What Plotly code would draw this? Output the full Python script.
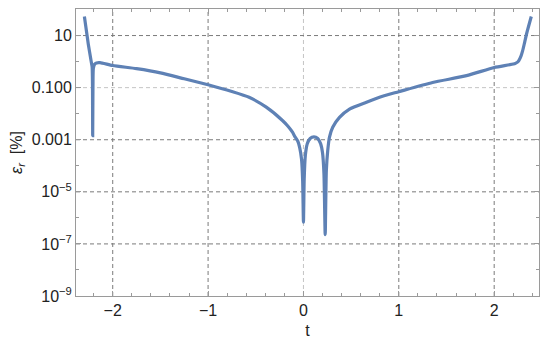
import plotly.graph_objects as go

# relative error curve (t, log10 of eps_r in %)
t_vals = [
    -2.297, -2.256, -2.227, -2.216, -2.212, -2.210, -2.207, -2.203, -2.19, -2.17,
    -2.133, -2.0, -1.75, -1.5, -1.25, -1.0, -0.75, -0.57, -0.39, -0.22,
    -0.16, -0.115, -0.09, -0.06, -0.04, -0.02, -0.008, 0.0, 0.008, 0.02,
    0.04, 0.07, 0.11, 0.15, 0.18, 0.2, 0.215, 0.228, 0.24, 0.255,
    0.273, 0.307, 0.378, 0.483, 0.661, 0.829, 1.0, 1.354, 1.71, 2.0,
    2.16, 2.22, 2.245, 2.26, 2.28, 2.298, 2.32, 2.34, 2.389,
]
eps_log10 = [
    1.73, 0.67, 0.03, -0.2, -0.9, -2.84, -0.9, -0.25, -0.1, -0.05,
    -0.04, -0.15, -0.27, -0.43, -0.66, -0.89, -1.15, -1.37, -1.75, -2.26,
    -2.49, -2.71, -2.88, -3.05, -3.29, -3.75, -4.6, -6.16, -4.5, -3.6,
    -3.15, -2.95, -2.89, -2.95, -3.15, -3.5, -4.3, -6.64, -4.2, -3.4,
    -2.9, -2.52, -2.14, -1.82, -1.56, -1.33, -1.155, -0.80, -0.54, -0.225,
    -0.12, -0.07, -0.02, 0.05, 0.2, 0.41, 0.75, 1.07, 1.73,
]
eps_vals = [10 ** v for v in eps_log10]

x_ticks = [-2, -1, 0, 1, 2]
y_ticks = [1e-9, 1e-7, 1e-5, 1e-3, 1e-1, 10]
y_ticktext = ["10<sup>−9</sup>", "10<sup>−7</sup>", "10<sup>−5</sup>", "0.001", "0.100", "10"]
y_minor = [1e-8, 1e-6, 1e-4, 1e-2, 1]

frame = "#9a9a9a"
grid_dark = "#7a7a7a"
grid_light = "#c4c4c4"
font = dict(family="Liberation Sans, Arial, sans-serif", size=16, color="#222222")

fig = go.Figure()
fig.add_trace(go.Scatter(
    x=t_vals, y=eps_vals, mode="lines",
    line=dict(color="#5E81B5", width=3.2, shape="spline", smoothing=0.6),
    showlegend=False,
))

# dashed grid lines
for xv in x_ticks:
    fig.add_vline(x=xv, line=dict(color=grid_light if xv == 0 else grid_dark, width=1, dash="4px,3px"), layer="below")
for yv in y_ticks[1:]:
    fig.add_hline(y=yv, line=dict(color=grid_light if yv == 1e-1 else grid_dark, width=1, dash="4px,3px"), layer="below")

fig.update_xaxes(
    range=[-2.385, 2.47], tickvals=x_ticks, showgrid=False, zeroline=False,
    showline=True, linecolor=frame, linewidth=1, mirror="ticks",
    ticks="inside", ticklen=5, tickcolor=frame,
    minor=dict(dtick=0.2, ticks="inside", ticklen=3, tickcolor=frame),
    title=dict(text="t", font=font, standoff=6), tickfont=font, automargin=False,
)
fig.update_yaxes(
    type="log", range=[-9, 2.02], tickvals=y_ticks, ticktext=y_ticktext,
    showgrid=False, zeroline=False,
    showline=True, linecolor=frame, linewidth=1, mirror="ticks",
    ticks="inside", ticklen=5, tickcolor=frame,
    minor=dict(tickvals=y_minor, ticks="inside", ticklen=3, tickcolor=frame),
    title=dict(text="<i>ε</i><sub><i>r</i></sub>  [%]", font=font), tickfont=font,
    automargin=False,
)
# the page body adds an 8px offset, so the figure is 8px smaller
fig.update_layout(
    width=542, height=337,
    margin=dict(l=68, r=11, t=1, b=49),
    paper_bgcolor="white", plot_bgcolor="white",
    showlegend=False,
)

fig.write_html("out.html")
